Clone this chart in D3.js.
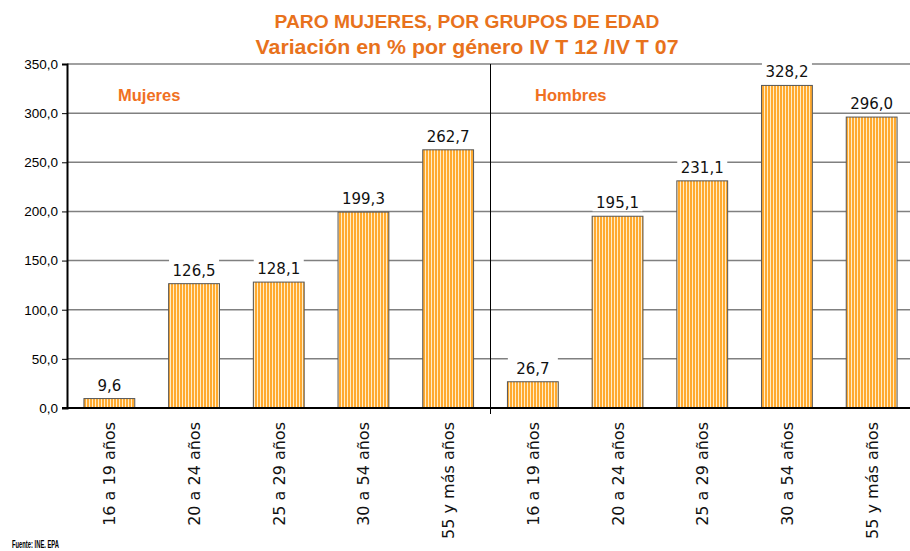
<!DOCTYPE html>
<html>
<head>
<meta charset="utf-8">
<script src="https://cdn.jsdelivr.net/npm/d3@7/dist/d3.min.js"></script>
<style>
  body { margin: 0; background: #fff; }
  svg { display: block; }
</style>
</head>
<body>
<script>
// data
var groups = ['Mujeres', 'Hombres'];
var ages = ['16 a 19 años', '20 a 24 años', '25 a 29 años', '30 a 54 años', '55 y más años'];
var mujeres = [9.6, 126.5, 128.1, 199.3, 262.7];
var hombres = [26.7, 195.1, 231.1, 328.2, 296.0];
var yTicks = [0, 50, 100, 150, 200, 250, 300, 350];

var W = 910, H = 551;
var plotL = 67, plotR = 914, plotT = 64, plotB = 408;
var orange = '#E8721C';

var svg = d3.select('body').append('svg').attr('width', W).attr('height', H);

// striped fill
var pat = svg.append('defs').append('pattern')
  .attr('id', 'stripes').attr('patternUnits', 'userSpaceOnUse')
  .attr('width', 3).attr('height', 10);
pat.append('rect').attr('width', 3).attr('height', 10).attr('fill', '#FFEDC8');
pat.append('rect').attr('width', 2).attr('height', 10).attr('fill', '#FFAA30');

var rows = [];
mujeres.forEach(function(v, i) { rows.push({ key: 'm' + i, label: ages[i], value: v }); });
hombres.forEach(function(v, i) { rows.push({ key: 'h' + i, label: ages[i], value: v }); });

var x = d3.scaleBand().domain(rows.map(function(d) { return d.key; }))
  .range([plotL, plotR]).paddingInner(0.4).paddingOuter(0.2);
var y = d3.scaleLinear().domain([0, 350]).range([plotB, plotT]);

// title
var title = svg.append('g').attr('font-family', 'Liberation Sans, Arial, sans-serif')
  .attr('font-weight', 'bold').attr('fill', orange).attr('text-anchor', 'middle');
title.append('text').attr('x', 467).attr('y', 28).attr('font-size', 19)
  .attr('textLength', 385).attr('lengthAdjust', 'spacingAndGlyphs')
  .text('PARO MUJERES, POR GRUPOS DE EDAD');
title.append('text').attr('x', 467).attr('y', 54).attr('font-size', 20)
  .attr('textLength', 423).attr('lengthAdjust', 'spacingAndGlyphs')
  .text('Variación en % por género IV T 12 /IV T 07');

// gridlines
svg.append('g').selectAll('line').data(yTicks.filter(function(t) { return t > 0; }))
  .enter().append('line')
  .attr('x1', plotL).attr('x2', W)
  .attr('y1', function(d) { return y(d); }).attr('y2', function(d) { return y(d); })
  .attr('stroke', '#808080').attr('stroke-width', 1.5);

// y axis
var yAxis = svg.append('g').attr('transform', 'translate(' + plotL + ',0)')
  .call(d3.axisLeft(y).tickValues(yTicks).tickSize(5).tickPadding(4)
    .tickFormat(function(d) { return d3.format('.1f')(d).replace('.', ','); }));
yAxis.select('.domain').attr('stroke', '#000').attr('stroke-width', 2);
yAxis.selectAll('.tick line').attr('stroke', '#000');
yAxis.selectAll('text').attr('font-family', 'Liberation Sans, Arial, sans-serif')
  .attr('font-size', 13.5).attr('fill', '#000');

// group divider
var divX = (x('m4') + x.bandwidth() + x('h0')) / 2;
svg.append('line').attr('x1', divX).attr('x2', divX).attr('y1', plotT).attr('y2', plotB + 6)
  .attr('stroke', '#000').attr('stroke-width', 1);

// bars
svg.append('g').selectAll('rect').data(rows).enter().append('rect')
  .attr('x', function(d) { return x(d.key); })
  .attr('y', function(d) { return y(d.value); })
  .attr('width', x.bandwidth())
  .attr('height', function(d) { return plotB - y(d.value); })
  .attr('fill', 'url(#stripes)').attr('stroke', '#555').attr('stroke-width', 1);

// x axis line
svg.append('line').attr('x1', plotL - 5).attr('x2', W).attr('y1', plotB).attr('y2', plotB)
  .attr('stroke', '#000').attr('stroke-width', 2);

// value labels with white backing
var vl = svg.append('g').selectAll('g').data(rows).enter().append('g')
  .attr('transform', function(d) {
    return 'translate(' + (x(d.key) + x.bandwidth() / 2) + ',' + (y(d.value) - 8) + ')';
  });
vl.append('rect').attr('x', -25).attr('y', -17).attr('width', 50).attr('height', 20).attr('fill', '#fff');
vl.append('text').attr('text-anchor', 'middle')
  .attr('font-family', 'DejaVu Sans, sans-serif').attr('font-size', 15).attr('fill', '#111')
  .text(function(d) { return d3.format('.1f')(d.value).replace('.', ','); });

// category labels
svg.append('g').selectAll('text').data(rows).enter().append('text')
  .attr('transform', function(d) {
    return 'translate(' + (x(d.key) + x.bandwidth() / 2 + 6) + ',' + (plotB + 14) + ') rotate(-90)';
  })
  .attr('text-anchor', 'end')
  .attr('font-family', 'DejaVu Sans, sans-serif').attr('font-size', 16).attr('fill', '#111')
  .text(function(d) { return d.label; });

// group names
svg.append('g').selectAll('text').data(groups).enter().append('text')
  .attr('x', function(d, i) { return i === 0 ? 118 : 535; }).attr('y', 101)
  .attr('font-family', 'Liberation Sans, Arial, sans-serif').attr('font-weight', 'bold')
  .attr('font-size', 16.5).attr('fill', '#F07022')
  .text(function(d) { return d; });

// source note
svg.append('text').attr('x', 12).attr('y', 548)
  .attr('font-family', 'Liberation Sans Narrow, Liberation Sans, Arial, sans-serif')
  .attr('font-weight', 'bold').attr('font-size', 11.5).attr('fill', '#000')
  .attr('textLength', 47).attr('lengthAdjust', 'spacingAndGlyphs')
  .text('Fuente: INE. EPA');
</script>
</body>
</html>
